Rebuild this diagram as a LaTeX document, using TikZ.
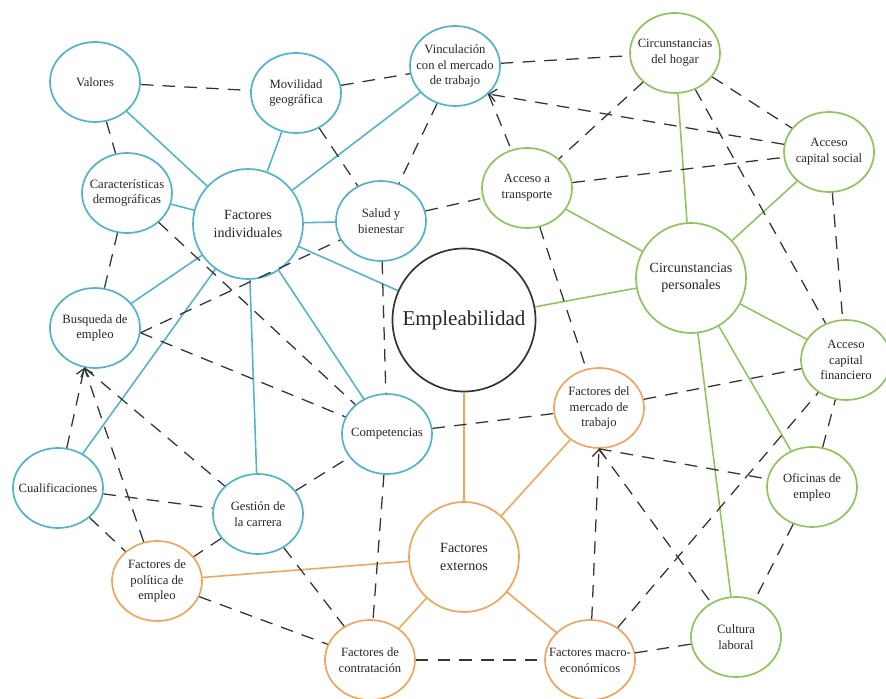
\documentclass[tikz,border=0pt]{standalone}
\usepackage{fontspec}
\setmainfont{Liberation Serif}
\usepackage{tikz}
\usetikzlibrary{arrows,arrows.meta,shapes.geometric,positioning}
\definecolor{azul}{HTML}{4FB3C9}
\definecolor{verde}{HTML}{8FC45A}
\definecolor{naranja}{HTML}{EFA55C}
\tikzstyle{elNode} = [ellipse, minimum width=2.25cm, minimum height=2cm, inner sep=-1.5cm, align=center, font=\fontsize{9}{11.3}\selectfont, text=black!85, line width=1.2pt]
\tikzstyle{elNodeB} = [elNode, draw=azul]
\tikzstyle{elNodeG} = [elNode, draw=verde]
\tikzstyle{elNodeO} = [elNode, draw=naranja]
\tikzstyle{hubNode} = [circle, minimum size=2.75cm, inner sep=0pt, align=center, font=\fontsize{10}{12.5}\selectfont, text=black!85, line width=1.2pt]
\tikzstyle{hubNodeB} = [hubNode, draw=azul]
\tikzstyle{hubNodeG} = [hubNode, draw=verde]
\tikzstyle{hubNodeO} = [hubNode, draw=naranja]
\tikzstyle{mainNode} = [circle, minimum size=3.575cm, inner sep=0pt, draw=black!80, font=\fontsize{15}{18}\selectfont, text=black!85, line width=1.2pt]
\tikzstyle{lineB} = [line width=1.1pt, draw=azul]
\tikzstyle{lineG} = [line width=1.1pt, draw=verde]
\tikzstyle{lineO} = [line width=1.1pt, draw=naranja]
\tikzstyle{dashLine} = [line width=0.9pt, draw=black!80, dash pattern=on 9pt off 6.5pt]
\tikzstyle{arrowD} = [dashLine, ->, >={Straight Barb[length=5pt,width=9pt]}]

\begin{document}
\begin{tikzpicture}[node distance=2cm]
    \useasboundingbox (-11.6,8.0) rectangle (10.55,-9.475);
    \node (empl) [mainNode] {Empleabilidad};
    \node (fi) [hubNodeB, left of=empl, xshift=-3.4cm, yshift=2.4cm] {Factores\\individuales};
    \node (cp) [hubNodeG, right of=empl, xshift=3.675cm, yshift=1.05cm] {Circunstancias\\personales};
    \node (fe) [hubNodeO, below of=empl, yshift=-3.925cm] {Factores\\externos};
    
    % factores individuales
    \node (val) [elNodeB, above of=fi, xshift=-3.825cm, yshift=1.55cm] {Valores};
    \node (mov) [elNodeB, above of=fi, xshift=1.2cm, yshift=1.275cm] {Movilidad\\geográfica};
    \node (vinc) [elNodeB, above of=fi, xshift=5.175cm, yshift=1.95cm] {Vinculación\\con el mercado\\de trabajo};
    \node (cara) [elNodeB, left of=fi, xshift=-1.025cm, yshift=0.775cm] {Características\\demográficas};
    \node (salud) [elNodeB, right of=fi, xshift=1.325cm, yshift=0.075cm] {Salud y\\bienestar};
    \node (busq) [elNodeB, left of=fi, xshift=-1.825cm, yshift=-2.6cm] {Busqueda de\\empleo};
    \node (cuali) [elNodeB, below of=fi, xshift=-4.75cm, yshift=-4.6cm] {Cualificaciones};
    \node (gest) [elNodeB, below of=fi, xshift=0.25cm, yshift=-5.25cm] {Gestión de\\la carrera};
    \node (comp) [elNodeB, below of=fi, xshift=3.475cm, yshift=-3.25cm] {Competencias};
    
    % circunstancias personales
    \node (hogar) [elNodeG, above of=cp, xshift=-0.4cm, yshift=3.625cm] {Circunstancias\\del hogar};
    \node (social) [elNodeG, above of=cp, xshift=3.45cm, yshift=1.15cm] {Acceso\\capital social};
    \node (transp) [elNodeG, left of=cp, xshift=-2.1cm, yshift=2.25cm] {Acceso a\\transporte};
    \node (fin) [elNodeG, right of=cp, xshift=1.875cm, yshift=-2.05cm] {Acceso\\capital\\financiero};
    \node (ofic) [elNodeG, below of=cp, xshift=3.025cm, yshift=-3.225cm] {Oficinas de\\empleo};
    \node (cult) [elNodeG, below of=cp, xshift=1.125cm, yshift=-6.975cm] {Cultura\\laboral};
    
    % factores externos
    \node (merc) [elNodeO, above of=fe, xshift=3.375cm, yshift=1.725cm] {Factores del\\mercado de\\trabajo};
    \node (polit) [elNodeO, left of=fe, xshift=-5.675cm, yshift=-0.6cm] {Factores de\\política de\\empleo};
    \node (contr) [elNodeO, below of=fe, xshift=-2.35cm, yshift=-0.575cm] {Factores de\\contratación};
    \node (macro) [elNodeO, below of=fe, xshift=3.15cm, yshift=-0.575cm] {Factores macro-\\económicos};
    
    \foreach \n in {val,mov,vinc,cara,salud,busq,cuali,gest,comp,empl}
        \draw [lineB] (fi) -- (\n);
    \foreach \n in {hogar,social,transp,fin,ofic,cult,empl}
        \draw [lineG] (cp) -- (\n);
    \foreach \n in {merc,polit,contr,macro,empl}
        \draw [lineO] (fe) -- (\n);
    
    \draw [dashLine] (val) -- (mov);
    \draw [dashLine] (mov) -- (vinc);
    \draw [dashLine] (vinc) -- (hogar);
    \draw [dashLine] (val) -- (cara);
    \draw [dashLine] (cara) -- (busq);
    \draw [dashLine] (cara) -- (comp);
    \draw [dashLine] (mov) -- (salud);
    \draw [dashLine] (vinc) -- (salud);
    \draw [dashLine] (salud) -- (transp);
    \draw [dashLine] (salud) -- (comp);
    \draw [dashLine] (busq.-6) -- (salud);
    \draw [dashLine] (busq.-6) -- (comp);
    \draw [arrowD] (cuali) -- (busq.-105);
    \draw [arrowD] (polit) -- (busq.-105);
    \draw [dashLine] (busq.-105) -- (gest);
    \draw [dashLine] (cuali) -- (gest);
    \draw [dashLine] (cuali) -- (polit);
    \draw [dashLine] (gest) -- (comp);
    \draw [dashLine] (gest) -- (polit);
    \draw [dashLine] (gest) -- (contr);
    \draw [dashLine] (polit) -- (contr);
    \draw [dashLine] (comp) -- (contr);
    \draw [dashLine] (comp) -- (merc);
    \draw [dashLine] (contr) -- (macro);
    \draw [dashLine] (macro) -- (cult);
    \draw [arrowD] (macro) -- (merc.south);
    \draw [dashLine] (merc.south) -- (cult);
    \draw [dashLine] (merc.south) -- (ofic);
    \draw [dashLine] (macro) -- (fin);
    \draw [dashLine] (merc) -- (fin);
    \draw [dashLine] (ofic) -- (fin);
    \draw [dashLine] (ofic) -- (cult);
    \draw [dashLine] (transp) -- (merc);
    \draw [arrowD] (social) -- (vinc.-40);
    \draw [dashLine] (vinc.-40) -- (transp);
    \draw [dashLine] (hogar) -- (social);
    \draw [dashLine] (hogar) -- (fin);
    \draw [dashLine] (social) -- (fin);
    \draw [dashLine] (hogar) -- (transp);
    \draw [dashLine] (transp) -- (social);
    
\end{tikzpicture}
\end{document}
